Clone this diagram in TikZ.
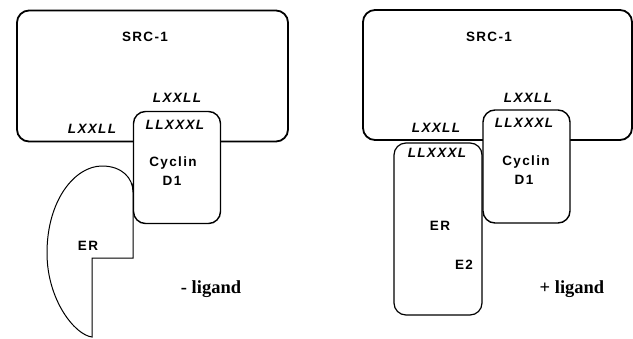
\documentclass[tikz,border=0pt]{standalone}
\usepackage{fontspec}
\setmainfont{Liberation Serif}
\newfontfamily\labfont[LetterSpace=10]{Liberation Sans}
\begin{document}
\begin{tikzpicture}[x=1pt,y=-1pt,
  srcbox/.style={draw, line width=1.8pt, rounded corners=12pt, fill=white, inner sep=0pt},
  cycbox/.style={draw, line width=1.4pt, rounded corners=12pt, fill=white, inner sep=0pt},
  erbox/.style={draw, line width=1.2pt, rounded corners=12pt, fill=white, inner sep=0pt},
  lab/.style={inner sep=0pt, font=\labfont\bfseries\fontsize{13.5}{15}\selectfont},
  motif/.style={inner sep=0pt, font=\labfont\bfseries\itshape\fontsize{13.5}{15}\selectfont},
  lig/.style={inner sep=0pt, anchor=base, font=\bfseries\fontsize{18.5}{20}\selectfont}]
\useasboundingbox (0,0) rectangle (633,338);
% ---------------- left panel ----------------
\node[srcbox, minimum width=271pt, minimum height=131pt] (srcL) at (152.5,76) {};
\draw[line width=1pt, fill=white] (133,183) -- (133,258) -- (92,258) -- (92,337)
  .. controls (75,335) and (47,300) .. (47,253)
  .. controls (47,200) and (75,166) .. (102,166)
  .. controls (122,166) and (133,178) .. (133,192);
\node[cycbox, minimum width=87pt, minimum height=112pt] (cycL) at (177,167.5) {};
\node[lab] (srcLt) at (145,37) {SRC-1};
\node[motif] (mL1) at (177,98) {LXXLL};
\node[motif] (mL2) at (92,129) {LXXLL};
\node[motif] (mL3) at (175,125) {LLXXXL};
\node[lab] (cycLt) at (173,163) {Cyclin};
\node[lab] (d1L) at (172,181) {D1};
\node[lab] (erL) at (88,246) {ER};
\node[lig] (ligL) at (211,293) {- ligand};
% ---------------- right panel ----------------
\node[srcbox, minimum width=269pt, minimum height=130pt] (srcR) at (497.5,75) {};
\node[erbox, minimum width=88pt, minimum height=172pt] (erR) at (438,229) {};
\node[cycbox, minimum width=87pt, minimum height=113pt] (cycR) at (526.5,166.5) {};
\node[lab] (srcRt) at (489,37) {SRC-1};
\node[motif] (mR1) at (528,98) {LXXLL};
\node[motif] (mR2) at (436,128) {LXXLL};
\node[motif] (mR3) at (524,123) {LLXXXL};
\node[motif] (mR4) at (437,153) {LLXXXL};
\node[lab] (cycRt) at (526,162) {Cyclin};
\node[lab] (d1R) at (524,180) {D1};
\node[lab] (erRt) at (440,226) {ER};
\node[lab] (e2R) at (464,265) {E2};
\node[lig] (ligR) at (572,293) {+ ligand};
\end{tikzpicture}
\end{document}
